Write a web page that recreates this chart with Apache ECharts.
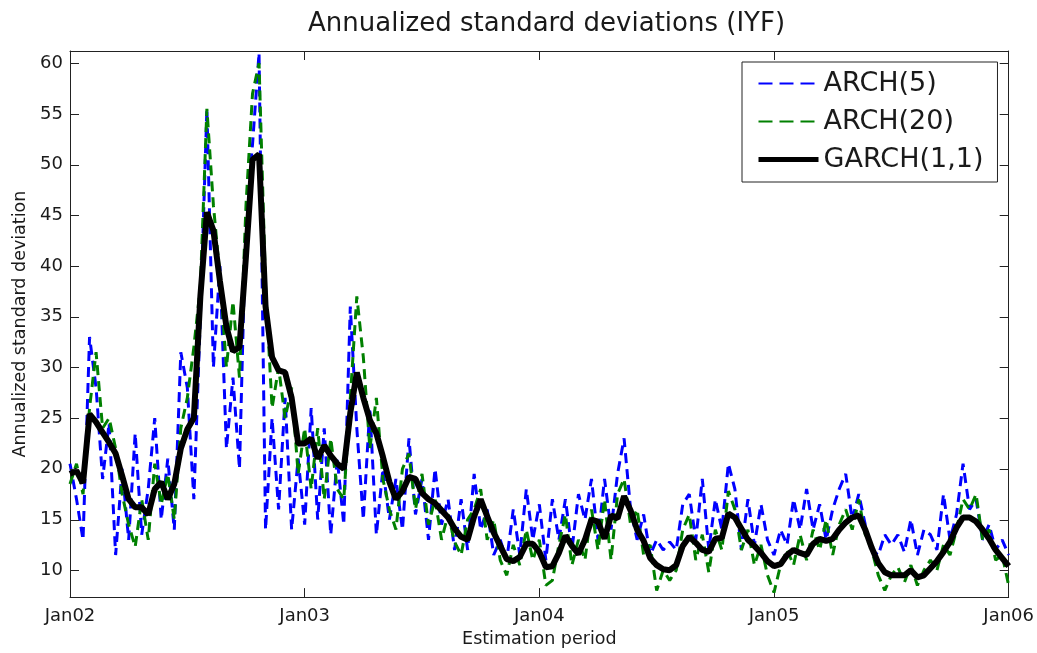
<!DOCTYPE html>
<html>
<head>
<meta charset="utf-8">
<script src="https://cdn.jsdelivr.net/npm/echarts@6/dist/echarts.min.js"></script>
<style>
html,body{margin:0;padding:0;background:#fff;}
#chart{width:1037px;height:653px;}
</style>
</head>
<body>
<div id="chart"></div>
<script>
// Tick labels (x axis, one per January)
const xTickLabels = ['Jan02', 'Jan03', 'Jan04', 'Jan05', 'Jan06'];
const yTickValues = [10, 15, 20, 25, 30, 35, 40, 45, 50, 55, 60];
const seriesNames = ['ARCH(5)', 'ARCH(20)', 'GARCH(1,1)'];

// Annualized standard deviation, sampled every 1/3 month from Jan02 to Jan06
const arch5 = [
  20.5, 17, 13, 33, 28, 19, 24.5, 11.5, 20, 13,
  23.5, 13.5, 18, 25, 15, 21, 14, 31.5, 28, 17,
  35, 55.5, 30, 40, 22, 29, 20, 45, 52, 61,
  14, 25, 16, 27, 14, 21, 14.5, 26, 15, 24,
  13.5, 21, 14.5, 36, 24, 15, 26, 13.5, 20, 15,
  19, 14, 23, 15.5, 19, 13, 20, 14.5, 17, 12,
  17, 12, 19.5, 14, 16, 11.5, 13, 11, 16, 11.5,
  18, 13, 16.5, 11, 17, 13, 17, 12, 17.5, 15,
  19, 13, 19, 14, 19.5, 23, 16, 13, 15.5, 11.5,
  13, 12, 12.8, 12, 16.5, 17.5, 13, 19, 12, 17,
  14, 20.5, 18, 12, 17, 12.5, 16.5, 13, 11.5, 14,
  12.5, 17, 14, 18, 14, 16.5, 13, 16, 18, 19.5,
  15, 17.5, 14.5, 12, 11.5, 13.5, 12.5, 13.5, 11.8, 15,
  11.5, 14, 13.5, 12, 17.5, 13, 15.5, 20.5, 16, 17,
  13, 14.5, 12, 13, 11.5
];
const arch20 = [
  18.5, 20.5, 17.5, 26, 31.5, 24, 25, 22, 17.5, 14.5,
  12.3, 17, 13, 20.5, 16.5, 19.5, 15, 24, 27, 32,
  38, 55.5, 46, 39, 30, 36.5, 29, 46, 57, 60,
  38, 26, 30, 25, 28, 19.5, 24, 18, 24, 17,
  23, 18, 17, 27, 37, 31, 22, 27, 19, 16,
  14, 20, 21.5, 16, 19.5, 14.5, 17, 13, 15.5, 12.8,
  11.5, 15, 16, 18, 13, 15, 11, 9.5, 12.5, 10.5,
  14, 11, 13, 8.5, 9, 12.5, 15.5, 10.5, 13, 11,
  16, 12, 17, 11, 17.5, 19, 14.5, 16, 11.5, 12.5,
  8, 10, 9, 10, 14, 15.5, 11, 13.5, 9.8, 14,
  12, 17.8, 16, 12, 14, 10.5, 12.5, 9.5, 7.8, 10.5,
  12, 10.5, 13.5, 11, 14, 12, 15, 11.5, 14.5, 16,
  14, 17, 13.5, 12, 9.5, 8, 9.5, 10.3, 8.8, 10.5,
  8.5, 10, 11, 10, 12.5, 11.5, 14, 17, 16, 17.5,
  13, 14, 11, 11.5, 8.5
];
const garch11 = [
  19.5, 19.8, 18.6, 25.4, 24.6, 23.6, 22.6, 21.5, 19.3, 17,
  16.2, 16.2, 15.5, 18, 18.7, 17, 18.5, 22, 23.9, 25,
  37, 45.3, 43.5, 38.5, 34, 31.6, 32, 41, 50.5, 51,
  36, 31, 29.7, 29.5, 27, 22.5, 22.5, 23, 21, 22.3,
  21.3, 20.5, 20, 25.5, 29.5, 27, 24.8, 23.5, 21.2, 18.7,
  17, 17.8, 19.2, 19, 17.6, 17, 16.6, 15.9, 15.2, 14.1,
  13.3, 13, 15.3, 17, 15.3, 13.7, 12.4, 11.1, 10.9, 11.3,
  12.6, 12.6, 11.8, 10.3, 10.4, 11.7, 13.4, 12.4, 11.6, 13,
  15, 14.8, 13.1, 15.4, 15.1, 17.3, 15.9, 14, 12.9, 11.2,
  10.5, 10.1, 10, 10.5, 12.4, 13.3, 12.7, 12, 11.8, 13.1,
  13.2, 15.6, 15.2, 14.1, 13, 12.4, 11.7, 10.9, 10.4, 10.6,
  11.5, 12, 11.7, 11.5, 12.6, 13.1, 12.9, 13.1, 14, 14.7,
  15.2, 15.4, 14, 12.2, 10.7, 9.8, 9.5, 9.5, 9.5, 10,
  9.3, 9.5, 10.2, 10.9, 11.8, 12.8, 14.2, 15.2, 15.2, 14.8,
  14, 13.1, 12, 11.2, 10.4
];

// sampling grid: months since Jan 2002, one sample every 1/3 month
const xMonths = garch11.map((_, i) => i / 3);
const toPairs = arr => arr.map((v, i) => [xMonths[i], v]);

const FONT = '"DejaVu Sans", Verdana, sans-serif';
const TXT = '#1a1a1a';
const FRAME = '#222222';
const X_MIN = 0, X_MAX = 48;
const Y_MIN = 7.35, Y_MAX = 61.2;
const TICK_LEN = 9;

const chart = echarts.init(document.getElementById('chart'), null, {renderer: 'canvas'});

const frameAxisLine = {show: true, onZero: false, lineStyle: {color: FRAME, width: 1}};
const insideTick = {show: true, inside: true, length: TICK_LEN, lineStyle: {color: FRAME, width: 1}};

// inside tick marks on the left and right frame, placed through the axis scale
function renderYTicks(params, api) {
  const v = api.value(0);
  const pL = api.coord([X_MIN, v]);
  const pR = api.coord([X_MAX, v]);
  const y = Math.round(pL[1]) + 0.5;
  const style = {stroke: FRAME, lineWidth: 1, fill: null};
  return {
    type: 'group',
    children: [
      {type: 'line', shape: {x1: pL[0], y1: y, x2: pL[0] + TICK_LEN, y2: y}, style: style},
      {type: 'line', shape: {x1: pR[0] - TICK_LEN, y1: y, x2: pR[0], y2: y}, style: style}
    ]
  };
}

chart.setOption({
  backgroundColor: '#ffffff',
  animation: false,
  title: {
    text: 'Annualized standard deviations (IYF)',
    left: 303,
    top: 6,
    textStyle: {fontFamily: FONT, fontSize: 26, fontWeight: 'normal', color: TXT}
  },
  legend: {
    orient: 'vertical',
    left: 742,
    top: 62,
    itemWidth: 60,
    itemHeight: 16,
    itemGap: 11,
    padding: [8, 14, 9, 14],
    backgroundColor: '#ffffff',
    borderColor: FRAME,
    borderWidth: 1,
    itemStyle: {opacity: 0},
    textStyle: {fontFamily: FONT, fontSize: 27, color: TXT, padding: [0, 0, 0, 0]},
    data: [
      {name: seriesNames[0], lineStyle: {width: 2, type: [14, 7]}, itemStyle: {opacity: 0}},
      {name: seriesNames[1], lineStyle: {width: 2, type: [14, 7]}, itemStyle: {opacity: 0}},
      {name: seriesNames[2], lineStyle: {width: 5}, itemStyle: {opacity: 0}}
    ]
  },
  grid: {left: 70, right: 28, top: 51, bottom: 54, containLabel: false},
  xAxis: [{
    type: 'value',
    min: X_MIN, max: X_MAX, interval: 12,
    name: 'Estimation period',
    nameLocation: 'middle',
    nameGap: 29,
    nameTextStyle: {fontFamily: FONT, fontSize: 17.5, color: TXT},
    axisLine: frameAxisLine,
    axisTick: insideTick,
    axisLabel: {
      fontFamily: FONT, fontSize: 18, color: TXT, margin: 10,
      formatter: v => xTickLabels[Math.round(v / 12)] || ''
    },
    splitLine: {show: false}
  }, {
    type: 'value',
    position: 'top',
    min: X_MIN, max: X_MAX, interval: 12,
    axisLine: frameAxisLine,
    axisTick: insideTick,
    axisLabel: {show: false},
    splitLine: {show: false}
  }],
  yAxis: [{
    type: 'value',
    min: Y_MIN, max: Y_MAX,
    name: 'Annualized standard deviation',
    nameLocation: 'middle',
    nameGap: 40,
    nameTextStyle: {fontFamily: FONT, fontSize: 17.5, color: TXT},
    axisLine: frameAxisLine,
    axisTick: {show: false},
    axisLabel: {fontFamily: FONT, fontSize: 18, color: TXT, margin: 7, customValues: yTickValues},
    splitLine: {show: false}
  }, {
    type: 'value',
    position: 'right',
    min: Y_MIN, max: Y_MAX,
    axisLine: frameAxisLine,
    axisTick: {show: false},
    axisLabel: {show: false},
    splitLine: {show: false}
  }],
  series: [{
    name: seriesNames[0],
    type: 'line',
    data: toPairs(arch5),
    symbol: 'none',
    z: 2,
    lineStyle: {color: '#0000ff', width: 3, type: [10, 6]},
    itemStyle: {color: '#0000ff'}
  }, {
    name: seriesNames[1],
    type: 'line',
    data: toPairs(arch20),
    symbol: 'none',
    z: 3,
    lineStyle: {color: '#008000', width: 3, type: [10, 6]},
    itemStyle: {color: '#008000'}
  }, {
    name: seriesNames[2],
    type: 'line',
    data: toPairs(garch11),
    symbol: 'none',
    z: 4,
    lineStyle: {color: '#000000', width: 6, type: 'solid'},
    itemStyle: {color: '#000000'}
  }, {
    name: 'yTicks',
    type: 'custom',
    silent: true,
    z: 10,
    clip: false,
    encode: {y: 0},
    dimensions: ['v'],
    data: yTickValues.map(v => [v]),
    renderItem: renderYTicks
  }]
});
</script>
</body>
</html>
